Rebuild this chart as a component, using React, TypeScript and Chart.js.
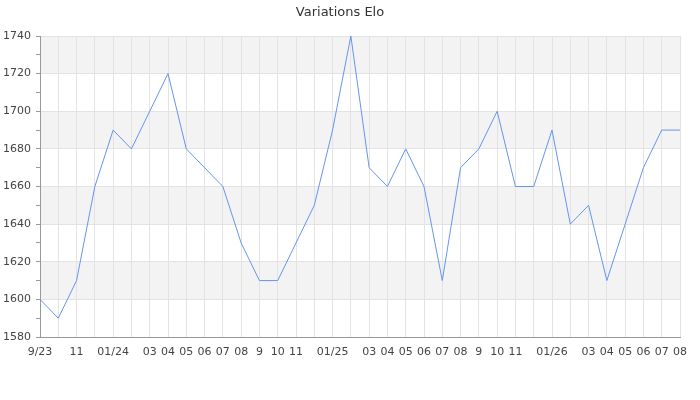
import { useEffect, useRef } from "react";
import { Chart, registerables } from "chart.js";

Chart.register(...registerables);

// Months from 09/2023 to 08/2026
const months = [
  "9/23", "10", "11", "12",
  "01/24", "02", "03", "04", "05", "06", "07", "08", "9", "10", "11", "12",
  "01/25", "02", "03", "04", "05", "06", "07", "08", "9", "10", "11", "12",
  "01/26", "02", "03", "04", "05", "06", "07", "08",
];

// Labels actually shown under the axis (some are dropped for room)
const axisLabels = [
  "9/23", "", "11", "",
  "01/24", "", "03", "04", "05", "06", "07", "08", "9", "10", "11", "",
  "01/25", "", "03", "04", "05", "06", "07", "08", "9", "10", "11", "",
  "01/26", "", "03", "04", "05", "06", "07", "08",
];

const elo = [
  1600, 1590, 1610, 1660, 1690, 1680, 1700, 1720, 1680, 1670, 1660, 1630,
  1610, 1610, 1630, 1650, 1690, 1740, 1670, 1660, 1680, 1660, 1610, 1670,
  1680, 1700, 1660, 1660, 1690, 1640, 1650, 1610, 1640, 1670, 1690, 1690,
];

const yMin = 1580;
const yMax = 1740;

const FONT = "'DejaVu Sans', Verdana, sans-serif";

// alternating grey bands every 20 points
const bandsPlugin = {
  id: "bands",
  beforeDraw(chart: any) {
    const { ctx, chartArea, scales } = chart;
    const y = scales.y;
    ctx.save();
    ctx.fillStyle = "#f3f3f3";
    for (let v = yMin + 20; v < yMax; v += 40) {
      const top = y.getPixelForValue(v + 20);
      const bottom = y.getPixelForValue(v);
      ctx.fillRect(chartArea.left, top, chartArea.right - chartArea.left, bottom - top);
    }
    ctx.restore();
  },
};

export default function App() {
  const chartRef = useRef<HTMLCanvasElement>(null);
  const chartInstance = useRef<Chart | null>(null);

  useEffect(() => {
    document.body.style.margin = "0";
    if (!chartRef.current) return;
    if (chartInstance.current) chartInstance.current.destroy();

    const ctx = chartRef.current.getContext("2d");
    if (!ctx) return;

    chartInstance.current = new Chart(ctx, {
      type: "line",
      data: {
        labels: months,
        datasets: [
          {
            label: "Elo",
            data: elo,
            borderColor: "#6495ed",
            borderWidth: 1,
            pointRadius: 0,
            tension: 0,
            fill: false,
          },
        ],
      },
      options: {
        responsive: true,
        maintainAspectRatio: false,
        animation: false,
        layout: { padding: { top: 0, right: 20, bottom: 0, left: 0 } },
        plugins: {
          legend: { display: false },
          tooltip: { enabled: false },
          title: {
            display: true,
            text: "Variations Elo",
            color: "#333",
            font: { family: FONT, size: 13, weight: "normal" },
            padding: { top: 5, bottom: 15.4 },
          },
        },
        scales: {
          x: {
            offset: false,
            grid: { color: "#e3e3e3", drawTicks: false },
            border: { color: "#999" },
            ticks: {
              autoSkip: false,
              maxRotation: 0,
              minRotation: 0,
              padding: 9,
              color: "#444",
              font: { family: FONT, size: 11 },
              callback: (_v: any, i: number) => axisLabels[i],
            },
            afterFit: (scale: any) => {
              scale.height = 63;
            },
          },
          y: {
            min: yMin,
            max: yMax,
            grid: {
              color: (c: any) => (c.tick && c.tick.value % 20 === 0 ? "#e3e3e3" : "rgba(0,0,0,0)"),
              tickColor: "#999",
              tickLength: 4,
            },
            border: { color: "#999" },
            ticks: {
              stepSize: 10,
              autoSkip: false,
              padding: 5,
              color: "#444",
              font: { family: FONT, size: 11 },
              callback: (v: any) => (Number(v) % 20 === 0 ? String(v) : ""),
            },
            afterFit: (scale: any) => {
              scale.width = 40;
            },
          },
        },
      },
      plugins: [bandsPlugin],
    });

    return () => {
      if (chartInstance.current) {
        chartInstance.current.destroy();
        chartInstance.current = null;
      }
    };
  }, []);

  return (
    <div style={{ position: "relative", width: 700, height: 400 }}>
      <canvas ref={chartRef} />
    </div>
  );
}
